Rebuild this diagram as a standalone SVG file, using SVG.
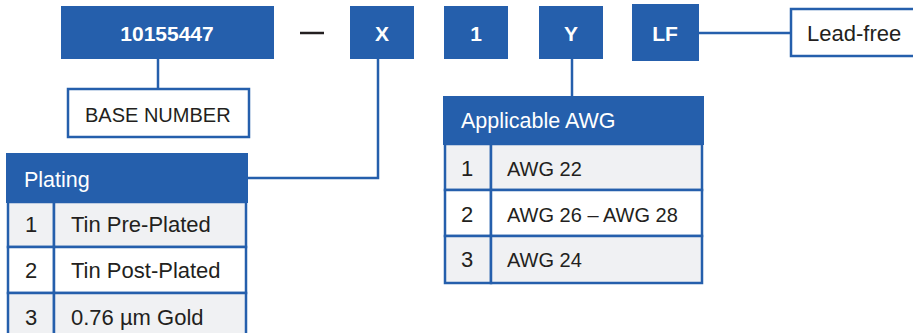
<svg xmlns="http://www.w3.org/2000/svg" width="913" height="333" viewBox="0 0 913 333">
<style>
.code{fill:#255fac}
.ct{fill:#fff;font-family:"Liberation Sans",Arial,sans-serif;font-weight:bold;font-size:21px;text-anchor:middle}
.lbl{fill:#fff;stroke:#255fac;stroke-width:2.5}
.t{fill:#231f20;font-family:"Liberation Sans",Arial,sans-serif;font-size:22px}
.a{font-size:20px}
.ht{fill:#fff;font-family:"Liberation Sans",Arial,sans-serif;font-size:21.5px}
.odd{fill:#f0f1f3;stroke:#255fac;stroke-width:2.5}
.even{fill:#fff;stroke:#255fac;stroke-width:2.5}
.hdr{fill:#255fac;stroke:#255fac;stroke-width:2}
.conn{fill:none;stroke:#255fac;stroke-width:2.5}
</style>
<rect width="913" height="333" fill="#fff"/>
<g id="connectors">
<path class="conn" d="M158,59 V89"/>
<path class="conn" d="M378,59 V178 H247"/>
<path class="conn" d="M572,59 V97"/>
<path class="conn" d="M699,33 H791"/>
</g>
<g id="base-code"><rect class="code" x="61" y="6" width="213" height="53"/><text class="ct" x="167" y="41">10155447</text></g>
<g id="dash"><line x1="300" y1="33" x2="324" y2="33" stroke="#231f20" stroke-width="2.5"/></g>
<g id="code-x"><rect class="code" x="350" y="6" width="64" height="53"/><text class="ct" x="382" y="41">X</text></g>
<g id="code-1"><rect class="code" x="444" y="6" width="64" height="53"/><text class="ct" x="476" y="41">1</text></g>
<g id="code-y"><rect class="code" x="539" y="6" width="64" height="53"/><text class="ct" x="571" y="41">Y</text></g>
<g id="code-lf"><rect class="code" x="632" y="4" width="67" height="57"/><text class="ct" x="665" y="41">LF</text></g>
<g id="base-number"><rect class="lbl" x="68" y="89" width="181" height="48"/><text class="t" x="85" y="122" style="font-size:20px">BASE NUMBER</text></g>
<g id="lead-free"><rect class="lbl" x="791" y="9" width="125" height="47"/><text class="t" x="807" y="41">Lead-free</text></g>
<g id="plating">
<rect class="hdr" x="7" y="154" width="240" height="48"/>
<text class="ht" x="24" y="187">Plating</text>
<rect class="odd" x="8" y="202" width="46" height="45"/><rect class="odd" x="54" y="202" width="192" height="45"/>
<rect class="even" x="8" y="247" width="46" height="46"/><rect class="even" x="54" y="247" width="192" height="46"/>
<rect class="odd" x="8" y="293" width="46" height="46"/><rect class="odd" x="54" y="293" width="192" height="46"/>
<text class="t" x="25" y="232">1</text><text class="t" x="71" y="232">Tin Pre-Plated</text>
<text class="t" x="25" y="278">2</text><text class="t" x="71" y="278">Tin Post-Plated</text>
<text class="t" x="25" y="325">3</text><text class="t" x="71" y="325">0.76 µm Gold</text>
</g>
<g id="awg">
<rect class="hdr" x="444" y="97" width="259" height="47"/>
<text class="ht" x="461" y="128">Applicable AWG</text>
<rect class="odd" x="445" y="144" width="46" height="46"/><rect class="odd" x="491" y="144" width="211" height="46"/>
<rect class="even" x="445" y="190" width="46" height="46"/><rect class="even" x="491" y="190" width="211" height="46"/>
<rect class="odd" x="445" y="236" width="46" height="47"/><rect class="odd" x="491" y="236" width="211" height="47"/>
<text class="t" x="461" y="176">1</text><text class="t a" x="507" y="176">AWG 22</text>
<text class="t" x="461" y="222">2</text><text class="t a" x="507" y="222">AWG 26 – AWG 28</text>
<text class="t" x="461" y="267">3</text><text class="t a" x="507" y="267">AWG 24</text>
</g>
</svg>
